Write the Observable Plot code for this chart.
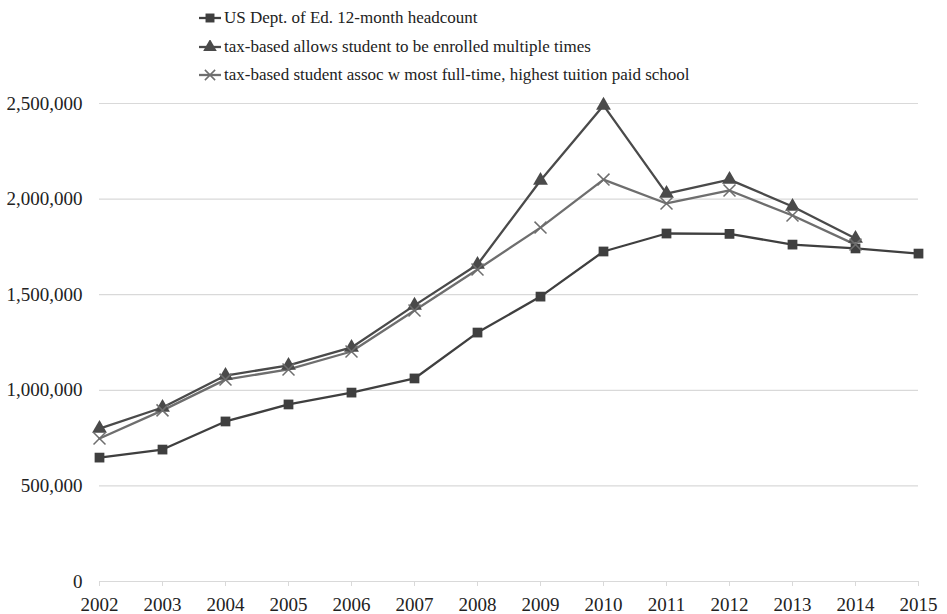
<!DOCTYPE html>
<html><head><meta charset="utf-8">
<script src="https://cdn.jsdelivr.net/npm/d3@7"></script>
<script src="https://cdn.jsdelivr.net/npm/@observablehq/plot@0.6"></script>
<style>
body{margin:0;background:#fff;font-family:"Liberation Serif","Times New Roman",Times,serif;}
#wrap{position:relative;width:947px;height:614px;}
#legend{position:absolute;left:198px;top:4px;font-size:17px;color:#222;font-family:"Liberation Serif","Times New Roman",Times,serif;}
.li{display:flex;align-items:center;height:28.5px;}
.li svg{margin-right:2px;}
#chart{position:absolute;left:0;top:88px;}
#chart svg, #chart svg text{font-family:"Liberation Serif","Times New Roman",Times,serif !important;}
</style></head><body>
<div id="wrap"><div id="legend"></div><div id="chart"></div></div>
<script>
const years = [2002,2003,2004,2005,2006,2007,2008,2009,2010,2011,2012,2013,2014,2015];
const seriesNames = [
  "US Dept. of Ed. 12-month headcount",
  "tax-based allows student to be enrolled multiple times",
  "tax-based student assoc w most full-time, highest tuition paid school"
];
const usDeptEd = [648000,690000,837000,926000,988000,1062000,1302000,1490000,1726000,1820000,1818000,1762000,1742000,1715000];
const taxMultiple = [800000,910000,1077000,1130000,1224000,1444000,1658000,2097000,2490000,2029000,2102000,1961000,1794000,null];
const taxAssoc = [748000,895000,1056000,1109000,1203000,1417000,1632000,1851000,2102000,1977000,2045000,1914000,1762000,null];
const yTicks = [0,500000,1000000,1500000,2000000,2500000];

const colors = ["#3f3f3f","#4a4a4a","#6e6e6e"];
const allValues = [usDeptEd, taxMultiple, taxAssoc];

const rows = [];
allValues.forEach((vals,si)=>vals.forEach((v,i)=>{ if(v!=null) rows.push({series:seriesNames[si], idx:si, year:years[i], value:v}); }));

const fmt = d3.format(",");
const serif = "'Liberation Serif', 'Times New Roman', serif";
const chart = Plot.plot({
  width:947, height:526,
  marginLeft:99, marginRight:29, marginTop:15, marginBottom:33,
  style:{fontFamily:serif, fontSize:"19px", color:"#222", background:"#fff"},
  x:{domain:[2002,2015], ticks:years, tickFormat:d=>String(d), label:null},
  y:{domain:[0,2500000], ticks:yTicks, tickFormat:fmt, label:null},
  marks:[
    Plot.gridY(yTicks.filter(d=>d>0),{stroke:"#d9d9d9", strokeOpacity:1, strokeWidth:1.2}),
    Plot.ruleY([0],{stroke:"#d9d9d9", strokeWidth:1.2}),
    Plot.axisY({ticks:yTicks, tickFormat:fmt, tickSize:0, tickPadding:17, fontSize:19, fill:"#222", fontFamily:serif}),
    Plot.axisX({ticks:years, tickFormat:d=>String(d), tickSize:5, stroke:"#d9d9d9", tickPadding:11, fontSize:19, fill:"#222", fontFamily:serif}),
    ...[0,1,2].map(si=>Plot.line(rows.filter(r=>r.idx===si),{x:"year", y:"value", stroke:colors[si], strokeWidth:2.3})),
    Plot.dot(rows.filter(r=>r.idx===0),{x:"year", y:"value", symbol:"square", r:5.5, fill:colors[0], stroke:"none"}),
    Plot.dot(rows.filter(r=>r.idx===1),{x:"year", y:"value", symbol:"triangle", r:5.5, fill:colors[1], stroke:"none"}),
    Plot.dot(rows.filter(r=>r.idx===2),{x:"year", y:"value", symbol:"times", r:5.5, stroke:colors[2], strokeWidth:1.5, fill:"none"})
  ]
});
document.getElementById("chart").appendChild(chart);

// legend
const leg = d3.select("#legend");
seriesNames.forEach((name,si)=>{
  const item = leg.append("div").attr("class","li");
  const s = item.append("svg").attr("width",24).attr("height",14);
  s.append("line").attr("x1",1).attr("x2",23).attr("y1",7).attr("y2",7).attr("stroke",colors[si]).attr("stroke-width",2.3);
  const sym = d3.symbol().type(si===0?d3.symbolSquare:si===1?d3.symbolTriangle:d3.symbolTimes).size(si===2?70:80);
  const p = s.append("path").attr("d",sym()).attr("transform","translate(12,7)");
  if(si===2) p.attr("fill","none").attr("stroke",colors[si]).attr("stroke-width",1.5);
  else p.attr("fill",colors[si]);
  item.append("span").text(name);
});
</script>
</body></html>
